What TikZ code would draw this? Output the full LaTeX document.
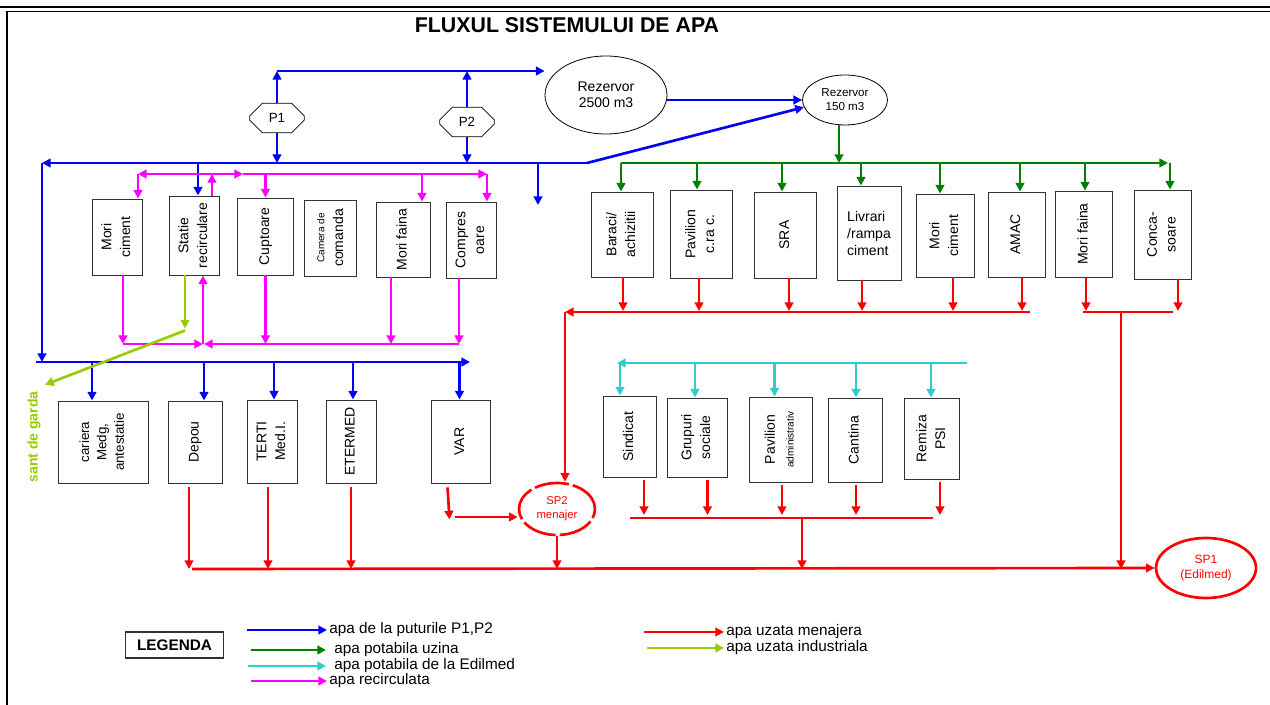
\documentclass[tikz,border=0pt]{standalone}
\usepackage{fontspec}
\setmainfont{Liberation Sans}
\usepackage{graphicx}
\usetikzlibrary{calc,
	positioning,
	arrows.meta,
	shapes.geometric,
	shapes.misc}
\definecolor{pblue}{RGB}{0,0,255}
\definecolor{pgreen}{RGB}{0,128,0}
\definecolor{pcyan}{RGB}{51,204,204}
\definecolor{pmag}{RGB}{255,0,255}
\definecolor{pred}{RGB}{255,0,0}
\definecolor{plime}{RGB}{153,204,0}
\newcommand{\vtxt}[1]{\rotatebox{90}{\begin{tabular}{@{}c@{}}#1\end{tabular}}}
\tikzset{
	pipe/.style={line width=2pt,-{Triangle[length=6.5pt,width=6.5pt]}},
	blu/.style={pipe,draw=pblue,fill=pblue},
	grn/.style={pipe,draw=pgreen,fill=pgreen},
	cya/.style={pipe,draw=pcyan,fill=pcyan},
	mag/.style={pipe,draw=pmag,fill=pmag,line width=1.7pt},
	rd/.style={pipe,draw=pred,fill=pred},
	lim/.style={pipe,draw=plime,fill=plime},
	box/.style 2 args={draw=black!80,line width=0.7pt,minimum width=#1*0.75pt,minimum height=#2*0.75pt,inner sep=0pt,font=\fontsize{10.5}{14}\selectfont},
	pump/.style={draw,line width=0.6pt,chamfered rectangle,chamfered rectangle xsep=5pt,chamfered rectangle ysep=6pt,minimum width=41pt,minimum height=22pt,inner sep=0pt,font=\fontsize{10}{12}\selectfont},
	tank/.style={draw,ellipse,line width=0.6pt,inner sep=0pt,align=center},
	station/.style={draw=pred,ellipse,line width=2pt,text=pred,inner sep=0pt,align=center},
	legtxt/.style={anchor=west,inner sep=1.5pt,font=\fontsize{11.5}{13}\selectfont}
}

\begin{document}
\begin{tikzpicture}[x=0.75pt,y=-0.75pt]
	\useasboundingbox (0,0) rectangle (1270,705);
	\draw[line width=1.6pt] (0,7) -- (1270,7);
	\draw[line width=0.6pt] (7,11) -- (1270,11);
	\draw[line width=0.8pt] (7,11) -- (7,705);
	\node[font=\fontsize{16}{19}\bfseries\selectfont] (title) at (567,25) {FLUXUL SISTEMULUI DE APA};

	\node[pump] (p1) at (277,118) {P1};
	\node[pump] (p2) at (467,122) {P2};
	\node[tank,minimum width=91.5pt,minimum height=58.5pt,font=\fontsize{10.5}{12}\selectfont] (rez1) at (606,95) {Rezervor\\2500 m3};
	\node[tank,minimum width=63.75pt,minimum height=37.5pt,font=\fontsize{8.7}{10.5}\selectfont] (rez2) at (845,100) {Rezervor\\150 m3};

	\node[box={50}{76}] (morici) at (117,237) {\vtxt{Mori\\ciment}};
	\node[box={50}{79}] (statie) at (194,235.5) {\vtxt{Statie\\recirculare}};
	\node[box={56}{77}] (cupt) at (265.5,236.5) {\vtxt{Cuptoare}};
	\node[box={52}{76}] (camera) at (330,238) {\vtxt{{\fontsize{7.5}{9}\selectfont Camera de}\\comanda}};
	\node[box={54}{75}] (morifl) at (403,239.5) {\vtxt{Mori faina}};
	\node[box={50}{76}] (compr) at (471,240) {\vtxt{Compres\\oare}};

	\node[box={90}{82},font=\fontsize{10}{13}\selectfont] (cariera) at (103,442) {\vtxt{cariera\\Medg,\\antestatie}};
	\node[box={54}{82}] (depou) at (195,442) {\vtxt{Depou}};
	\node[box={50}{83}] (terti) at (272,441.5) {\vtxt{TERTI\\Med.I.}};
	\node[box={50}{83}] (etermed) at (351,441.5) {\vtxt{ETERMED}};
	\node[box={59}{83}] (var) at (460.5,441.5) {\vtxt{VAR}};

	\node[box={62}{85}] (baraci) at (622,234.5) {\vtxt{Baraci/\\achizitii}};
	\node[box={62}{88}] (pavcrc) at (701,234) {\vtxt{Pavilion\\c.ra c.}};
	\node[box={62}{86}] (sra) at (785.5,235) {\vtxt{SRA}};
	\node[box={64}{94},align=left,font=\fontsize{10.5}{12.75}\selectfont] (livrari) at (869,233) {Livrari\\/rampa\\ciment};
	\node[box={58}{83}] (moric2) at (945,235.5) {\vtxt{Mori\\ciment}};
	\node[box={57}{85}] (amac) at (1016.5,234.5) {\vtxt{AMAC}};
	\node[box={57}{86}] (morif2) at (1084,234) {\vtxt{Mori faina}};
	\node[box={57}{89}] (conca) at (1162.5,234.5) {\vtxt{Conca-\\soare}};

	\node[box={53}{81}] (sindicat) at (629.5,436.5) {\vtxt{Sindicat}};
	\node[box={60}{79}] (grupuri) at (697,437.5) {\vtxt{Grupuri\\sociale}};
	\node[box={63}{85}] (paviladm) at (780.5,439.5) {\vtxt{Pavilion\\{\fontsize{7.5}{9}\selectfont administrativ}}};
	\node[box={54}{84}] (cantina) at (855,440) {\vtxt{Cantina}};
	\node[box={54.5}{81}] (remiza) at (932,438.5) {\vtxt{Remiza\\PSI}};

	\node[station,minimum width=57pt,minimum height=39pt,dash pattern=on 26pt off 3pt,font=\fontsize{8.5}{10.5}\selectfont] (sp2) at (557,509) {SP2\\menajer};
	\node[station,minimum width=75pt,minimum height=45pt,font=\fontsize{9}{11.5}\selectfont] (sp1) at (1206,568) {SP1\\(Edilmed)};
	\node[rotate=90,text=plime,font=\fontsize{10.5}{12}\bfseries\selectfont] (sant) at (34,437) {sant de garda};

	\coordinate (tline) at (0,71);
	\coordinate (hdrL) at (42,163);
	\coordinate (hdrR) at (587,163);
	\coordinate (lowL) at (36,362);
	\coordinate (lowR) at (470,362);
	\coordinate (bdrop) at (538,205);
	\draw[blu] (p1.north) -- (p1.north |- tline);
	\draw[blu] (p2.north) -- (p2.north |- tline);
	\draw[blu] (p1.north |- tline) -- (rez1.west |- tline);
	\draw[blu] (p1.south) -- (p1.south |- hdrL);
	\draw[blu] (p2.south) -- (p2.south |- hdrL);
	\draw[blu] (rez1.east |- rez2.west) -- (rez2.west);
	\draw[blu] (hdrR) -- (hdrL);
	\draw[blu] (hdrR) -- (rez2.190);
	\draw[blu] (hdrL) -- (hdrL |- lowL);
	\draw[blu] (lowL) -- (lowR);
	\draw[blu] ($(statie.north |- hdrL)+(4,0)$) -- ($(statie.north)+(4,0)$);
	\draw[blu] (bdrop |- hdrL) -- (bdrop);
	\foreach \n/\d in {cariera/-11,depou/9,terti/2,etermed/2,var/-1}
		\draw[blu] ($(\n.north |- lowL)+(\d,0)$) -- ($(\n.north)+(\d,0)$);

	\coordinate (ghdrL) at (621,163);
	\coordinate (ghdrR) at (1168,163);
	\draw[grn] ($(rez2.south)+(-6,0)$) -- ($(rez2.south |- ghdrL)+(-6,0)$);
	\draw[grn] (ghdrL) -- (ghdrR);
	\foreach \n/\d in {baraci/-1,pavcrc/-4,sra/-3.5,livrari/-8,moric2/-5,amac/3.5,morif2/1,conca/7.5}
		\draw[grn] ($(\n.north |- ghdrL)+(\d,0)$) -- ($(\n.north)+(\d,0)$);

	\coordinate (mtop) at (0,174);
	\coordinate (mbot) at (0,344);
	\coordinate (mL) at (138,174);
	\coordinate (mM) at (243,174);
	\coordinate (mR) at (487,174);
	\coordinate (mup) at ($(statie.north |- mtop)+(18,0)$);
	\coordinate (mj) at ($(statie.south |- mbot)+(9,0)$);
	\draw[mag] ($(statie.north)+(18,0)$) -- (mup);
	\draw[mag] (mup) -- (mL);
	\draw[mag] (mup) -- (mM);
	\draw[mag] (mM) -- (mR);
	\draw[mag] (mL) -- (mL |- morici.north);
	\foreach \n/\d in {cupt/0,morifl/19,compr/16}
		\draw[mag] ($(\n.north |- mtop)+(\d,0)$) -- ($(\n.north)+(\d,0)$);
	\foreach \n/\d in {morici/6,cupt/0,morifl/-12,compr/-12}
		\draw[mag] ($(\n.south)+(\d,0)$) -- ($(\n.south |- mbot)+(\d,0)$);
	\draw[mag] ($(morici.south |- mbot)+(6,0)$) -- (mj);
	\draw[mag] ($(compr.south |- mbot)+(-12,0)$) -- ($(mj)+(1,0)$);
	\draw[mag] (mj) -- (mj |- statie.south);

	\coordinate (gj) at ($(statie.south)+(-9,55)$);
	\draw[lim] ($(statie.south)+(-9,0)$) -- ($(statie.south)+(-9,53)$);
	\draw[lim] (gj) -- ($(sant.east)+(11,-2)$);

	\coordinate (rc1L) at (565,312);
	\coordinate (rc1R) at (1030,312);
	\coordinate (rc2L) at (1083,312);
	\coordinate (rc2R) at (1173,312);
	\coordinate (rc2D) at (1121,312);
	\coordinate (botL) at (192,569);
	\foreach \n/\d in {baraci/1,pavcrc/-2,sra/3.5,livrari/-7,moric2/8,amac/5.5,morif2/2,conca/15.5}
		\draw[rd] ($(\n.south)+(\d,0)$) -- ($(\n.south |- rc1L)+(\d,-1)$);
	\draw[rd] (rc1R) -- (rc1L);
	\draw[rd,-] (rc2L) -- (rc2R);
	\draw[rd] (rc1L) -- (rc1L |- sp2.north);
	\draw[rd] (rc2D) -- (rc2D |- botL);
	\draw[rd] (botL) -- (sp1.west);
	\foreach \n/\d in {depou/-6,terti/-4,etermed/0}
		\draw[rd] ($(\n.south)+(\d,4)$) -- ($(\n.south |- botL)+(\d,0)$);
	\coordinate (varR) at (455,517);
	\draw[rd] ($(var.south)+(-13,4)$) -- ++(2,32);
	\draw[rd] (varR) -- (varR -| sp2.west);
	\draw[rd] (sp2.south) -- (sp2.south |- botL);

	\coordinate (cL) at (617,363);
	\coordinate (cR) at (967,363);
	\draw[cya] (cR) -- (cL);
	\foreach \n/\d in {sindicat/-9.5,grupuri/-2,paviladm/-6,cantina/1,remiza/-1}
		\draw[cya] ($(\n.north |- cL)+(\d,0)$) -- ($(\n.north)+(\d,0)$);
	\coordinate (mcL) at (630,518);
	\coordinate (mcR) at (933,518);
	\coordinate (mcD) at (802,518);
	\foreach \n/\d in {sindicat/14.5,grupuri/10.5,paviladm/1.5,cantina/1,remiza/8}
		\draw[rd] ($(\n.south)+(\d,3)$) -- ($(\n.south |- mcL)+(\d,-3)$);
	\draw[rd,-] (mcL) -- (mcR);
	\draw[rd] (mcD) -- (mcD |- botL);

	\node[draw=black!80,line width=0.8pt,minimum width=74pt,minimum height=19.5pt,font=\fontsize{11.5}{13}\bfseries\selectfont] (leg) at (174.5,645) {LEGENDA};
	\node[legtxt] (l1) at (327,630) {apa de la puturile P1,P2};
	\node[legtxt] (l2) at (332,650) {apa potabila uzina};
	\node[legtxt] (l3) at (332,666) {apa potabila de la Edilmed};
	\node[legtxt] (l4) at (327,681) {apa recirculata};
	\node[legtxt] (l5) at (724,632) {apa uzata menajera};
	\node[legtxt] (l6) at (724,648) {apa uzata industriala};
	\draw[blu] ($(l1.west)+(-80,0)$) -- (l1.west);
	\draw[grn] ($(l2.west)+(-81,0)$) -- ($(l2.west)+(-6,0)$);
	\draw[cya] ($(l3.west)+(-84,0)$) -- ($(l3.west)+(-6,0)$);
	\draw[mag] ($(l4.west)+(-76,0)$) -- (l4.west);
	\draw[rd] ($(l5.west)+(-80,0)$) -- (l5.west);
	\draw[lim] ($(l6.west)+(-77,0)$) -- (l6.west);
\end{tikzpicture}
\end{document}
